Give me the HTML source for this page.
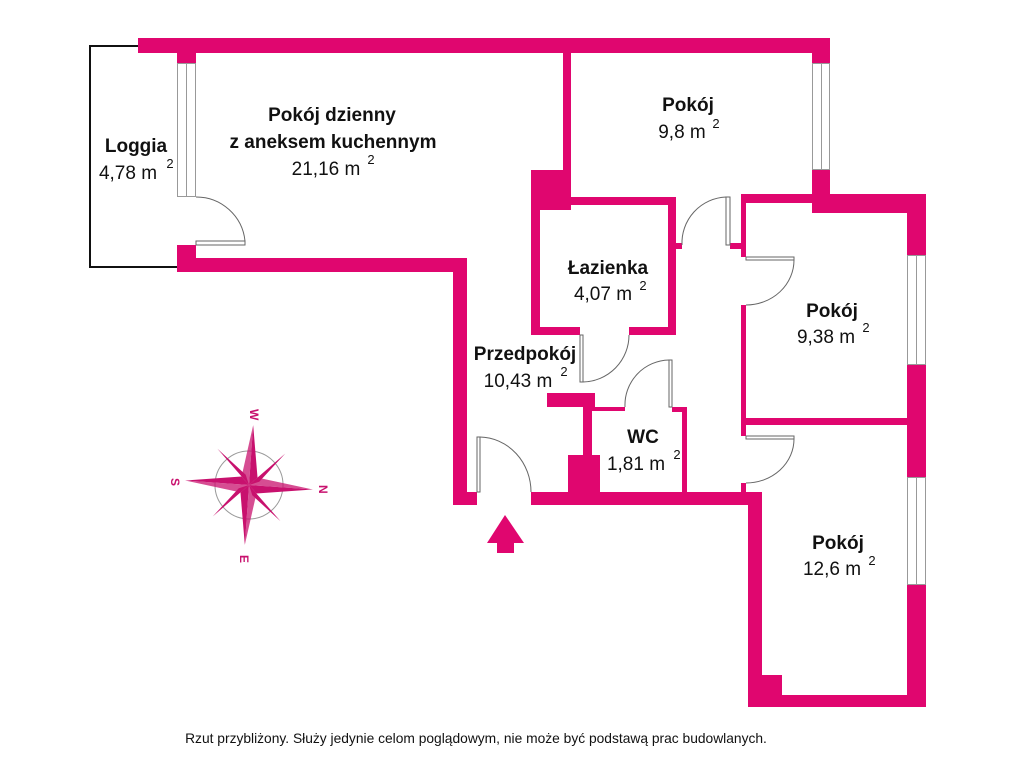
<!DOCTYPE html>
<html><head><meta charset="utf-8"><style>
html,body{margin:0;padding:0;background:#fff;width:1024px;height:768px;overflow:hidden}
svg{display:block}
text{font-family:"Liberation Sans",sans-serif;fill:#111}
.b{font-weight:bold;font-size:19px}
.n{font-size:19px}
.s{font-size:13px}
</style></head><body>
<svg width="1024" height="768" viewBox="0 0 1024 768">
<g fill="#e0066f">
<rect x="138" y="38" width="692" height="15"/>
<rect x="177" y="53" width="19" height="10"/>
<rect x="177" y="245" width="19" height="27"/>
<rect x="177" y="258" width="290" height="14"/>
<rect x="453" y="258" width="14" height="247"/>
<rect x="453" y="492" width="24" height="13"/>
<rect x="531" y="492" width="231" height="13"/>
<rect x="563" y="53" width="8" height="157"/>
<rect x="531" y="170" width="40" height="40"/>
<rect x="531" y="170" width="9" height="165"/>
<rect x="531" y="197" width="145" height="8"/>
<rect x="668" y="197" width="8" height="138"/>
<rect x="531" y="327" width="49" height="8"/>
<rect x="629" y="327" width="47" height="8"/>
<rect x="676" y="243" width="6" height="6"/>
<rect x="730" y="243" width="11" height="6"/>
<rect x="812" y="53" width="18" height="10"/>
<rect x="812" y="170" width="18" height="43"/>
<rect x="741" y="194" width="185" height="9"/>
<rect x="812" y="194" width="114" height="19"/>
<rect x="907" y="194" width="19" height="61"/>
<rect x="907" y="365" width="19" height="112"/>
<rect x="907" y="585" width="19" height="122"/>
<rect x="748" y="695" width="178" height="12"/>
<rect x="748" y="492" width="14" height="215"/>
<rect x="762" y="675" width="20" height="20"/>
<rect x="741" y="198" width="5" height="59"/>
<rect x="741" y="305" width="5" height="131"/>
<rect x="741" y="483" width="5" height="15"/>
<rect x="742" y="418" width="165" height="7"/>
<rect x="547" y="393" width="48" height="14"/>
<rect x="583" y="393" width="9" height="99"/>
<rect x="568" y="455" width="32" height="40"/>
<rect x="592" y="407" width="33" height="4"/>
<rect x="672" y="407" width="15" height="5"/>
<rect x="682" y="407" width="5" height="88"/>
<polygon points="505,515 524,543 514,543 514,553 497,553 497,543 487,543"/>
</g>
<g fill="#fff" stroke="#999" stroke-width="1">
<rect x="177.5" y="63.5" width="18" height="133"/><line x1="186.5" y1="63" x2="186.5" y2="197"/>
<rect x="812.5" y="63.5" width="17" height="106"/><line x1="821.5" y1="63" x2="821.5" y2="170"/>
<rect x="907.5" y="255.5" width="18" height="109"/><line x1="916.5" y1="255" x2="916.5" y2="365"/>
<rect x="907.5" y="477.5" width="18" height="107"/><line x1="916.5" y1="477" x2="916.5" y2="585"/>
</g>
<polyline points="138,46 90,46 90,267 177,267" fill="none" stroke="#111" stroke-width="2"/>
<g fill="none" stroke="#666" stroke-width="1">
<rect x="196" y="241" width="49" height="4"/><path d="M245,241 A49,49 0 0 0 196,197"/>
<rect x="726" y="197" width="4" height="48"/><path d="M726,197 A46,46 0 0 0 682,245"/>
<rect x="580" y="335" width="3" height="47"/><path d="M583,382 A47,47 0 0 0 629,335"/>
<rect x="669" y="360" width="3" height="47"/><path d="M669,360 A45,45 0 0 0 625,407"/>
<rect x="477" y="437" width="3" height="55"/><path d="M480,437 A52,55 0 0 1 531,492"/>
<rect x="746" y="257" width="48" height="3"/><path d="M794,260 A48,45 0 0 1 746,305"/>
<rect x="746" y="436" width="48" height="3"/><path d="M794,439 A48,44 0 0 1 746,483"/>
</g>
<g transform="translate(249,485) rotate(4)">
<circle r="34" fill="none" stroke="#999" stroke-width="1"/>
<g fill="#c8116e">
<polygon points="0,-60 8,-8 0,0"/><polygon points="0,60 -8,8 0,0"/>
<polygon points="-64,0 -8,-8 0,0"/><polygon points="64,0 8,8 0,0"/>
<polygon points="-34,-34 -4,-10 0,0"/><polygon points="34,-34 10,-4 0,0"/>
<polygon points="34,34 4,10 0,0"/><polygon points="-34,34 -10,4 0,0"/>
<polygon points="0,-60 -8,-8 0,0" opacity="0.75"/><polygon points="0,60 8,8 0,0" opacity="0.75"/>
<polygon points="-64,0 -8,8 0,0" opacity="0.75"/><polygon points="64,0 8,-8 0,0" opacity="0.75"/>
</g>
</g>
<g font-weight="bold" font-size="12">
<text x="249" y="418" transform="rotate(90 254 414)" style="fill:#c8116e">W</text>
<text x="170" y="487" transform="rotate(90 175 483)" style="fill:#c8116e">S</text>
<text x="318" y="494" transform="rotate(90 323 490)" style="fill:#c8116e">N</text>
<text x="239" y="564" transform="rotate(90 244 560)" style="fill:#c8116e">E</text>
</g>
<g text-anchor="middle">
<text class="b" x="136" y="152">Loggia</text>
<text class="n" x="128" y="179">4,78 m</text><text class="s" x="170" y="168">2</text>
<text class="b" x="332" y="121">Pokój dzienny</text>
<text class="b" x="333" y="148">z aneksem kuchennym</text>
<text class="n" x="326" y="175">21,16 m</text><text class="s" x="371" y="164">2</text>
<text class="b" x="688" y="111">Pokój</text>
<text class="n" x="682" y="138">9,8 m</text><text class="s" x="716" y="128">2</text>
<text class="b" x="608" y="274">Łazienka</text>
<text class="n" x="603" y="300">4,07 m</text><text class="s" x="643" y="290">2</text>
<text class="b" x="832" y="317">Pokój</text>
<text class="n" x="826" y="343">9,38 m</text><text class="s" x="866" y="332">2</text>
<text class="b" x="525" y="360">Przedpokój</text>
<text class="n" x="518" y="387">10,43 m</text><text class="s" x="564" y="376">2</text>
<text class="b" x="643" y="443">WC</text>
<text class="n" x="636" y="470">1,81 m</text><text class="s" x="677" y="459">2</text>
<text class="b" x="838" y="549">Pokój</text>
<text class="n" x="832" y="575">12,6 m</text><text class="s" x="872" y="565">2</text>
<text x="476" y="743" style="font-size:13.8px">Rzut przybliżony. Służy jedynie celom poglądowym, nie może być podstawą prac budowlanych.</text>
</g>
</svg>
</body></html>
